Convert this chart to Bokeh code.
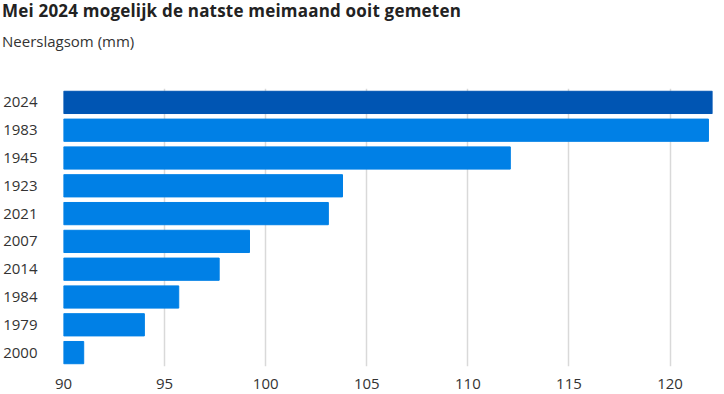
from bokeh.plotting import figure
from bokeh.models import ColumnDataSource, FixedTicker, Range1d, Div
from bokeh.layouts import column
from bokeh.embed import file_html
from bokeh.resources import INLINE

title_text = "Mei 2024 mogelijk de natste meimaand ooit gemeten"
subtitle_text = "Neerslagsom (mm)"
years = ["2024", "1983", "1945", "1923", "2021", "2007", "2014", "1984", "1979", "2000"]
values = [122.1, 121.9, 112.1, 103.8, 103.1, 99.2, 97.7, 95.7, 94.0, 91.0]
highlight = "2024"
x_ticks = [90, 95, 100, 105, 110, 115, 120]

colors = ["#0055b3" if y == highlight else "#0080e6" for y in years]
src = ColumnDataSource(dict(year=years, value=values, color=colors))

header = Div(
    text=(
        '<div style="position:relative;width:716px;height:80px">'
        '<div style="position:absolute;left:2px;top:1px;font-family:\'Open Sans\';'
        'font-weight:bold;font-size:17px;letter-spacing:0.2px;line-height:20px;'
        f'color:#222222;white-space:nowrap">{title_text}</div>'
        '<div style="position:absolute;left:2px;top:31px;font-family:\'Open Sans\';'
        'font-size:15px;line-height:20px;color:#333333;white-space:nowrap">'
        f'{subtitle_text}</div></div>'
    ),
    width=716, height=80, margin=(0, 0, 0, 0),
)

p = figure(
    y_range=list(reversed(years)),
    x_range=Range1d(90, 122.1),
    width=716, height=312,
    output_backend="svg", toolbar_location=None,
    min_border_left=62, min_border_right=4, min_border_top=8, min_border_bottom=26,
    margin=(0, 0, 0, 0),
)

p.hbar(y="year", left=90, right="value", height=0.8, color="color",
       line_color="color", source=src)

p.outline_line_color = None
p.background_fill_color = "white"
p.border_fill_color = "white"
p.ygrid.grid_line_color = None
p.xgrid.grid_line_color = "#d9d9d9"
p.xgrid.grid_line_width = 1.5
p.xaxis.ticker = FixedTicker(ticks=x_ticks)
for ax in (p.xaxis[0], p.yaxis[0]):
    ax.axis_line_color = None
    ax.major_tick_line_color = None
    ax.minor_tick_line_color = None
    ax.major_label_text_font = "Open Sans"
    ax.major_label_text_font_size = "15px"
    ax.major_label_text_color = "#333333"
p.xaxis.major_label_standoff = 6
p.yaxis.major_label_standoff = 20

layout = column(header, p, spacing=0, margin=(0, 0, 0, 0))
open("out.html", "w").write(file_html(layout, INLINE))
